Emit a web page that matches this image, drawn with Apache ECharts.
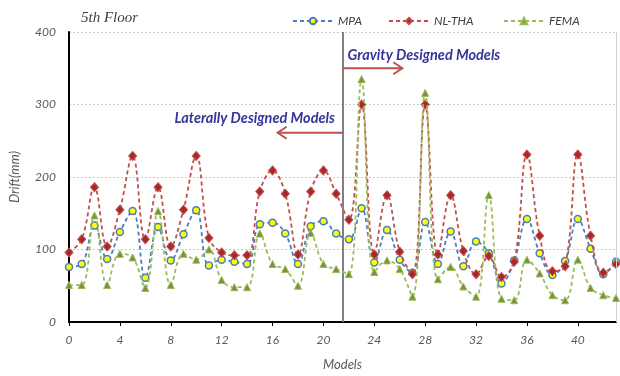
<!DOCTYPE html>
<html>
<head>
<meta charset="utf-8">
<script src="https://cdn.jsdelivr.net/npm/echarts@6/dist/echarts.min.js"></script>
<style>
  html, body { margin: 0; padding: 0; background: #ffffff; }
  #chart { width: 620px; height: 376px; }
</style>
</head>
<body>
<div id="chart"></div>
<script>
// Model numbers along the horizontal axis
const models = [0, 1, 2, 3, 4, 5, 6, 7, 8, 9, 10, 11, 12, 13, 14, 15, 16, 17, 18, 19, 20, 21,
                22, 23, 24, 25, 26, 27, 28, 29, 30, 31, 32, 33, 34, 35, 36, 37, 38, 39, 40, 41, 42, 43];

// 5th floor drift (mm) per model and method
const mpa   = [76, 80, 133, 87, 124, 153, 61, 131, 85, 121, 154, 78, 86, 83, 80, 135, 137, 122, 80, 132, 139, 122,
               114, 157, 82, 127, 86, 68, 138, 80, 125, 77, 111, 95, 53, 85, 142, 95, 65, 84, 142, 101, 66, 83];
const nlTha = [96, 114, 186, 104, 155, 229, 114, 186, 104, 155, 229, 116, 96, 92, 92, 180, 209, 177, 93, 180, 209, 177,
               141, 300, 93, 175, 97, 66, 300, 93, 175, 98, 66, 91, 62, 83, 231, 119, 70, 77, 231, 119, 68, 80];
const fema  = [51, 51, 147, 51, 94, 89, 47, 153, 51, 94, 86, 100, 58, 48, 48, 122, 80, 73, 50, 123, 80, 73,
               66, 335, 69, 85, 73, 35, 316, 59, 76, 49, 35, 175, 32, 30, 86, 67, 37, 30, 86, 47, 37, 33];

// Boundary between the two model groups
const groupSplit = 21.5;

const labelFont = 'Lato, "Open Sans", sans-serif';
const pairs = vals => vals.map((v, i) => [models[i], v]);

const chart = echarts.init(document.getElementById('chart'), null, { renderer: 'canvas' });

const dashed = [4, 3];

chart.setOption({
  animation: false,
  backgroundColor: '#ffffff',
  title: {
    text: '5th Floor',
    left: 76, top: 6,
    textStyle: { fontFamily: '"Liberation Serif", serif', fontStyle: 'italic', fontWeight: 'normal', fontSize: 15, color: '#404040' }
  },
  legend: [
    { data: ['MPA'],    left: 287, top: 10 },
    { data: ['NL-THA'], left: 383, top: 10 },
    { data: ['FEMA'],   left: 498, top: 10 }
  ].map(l => Object.assign(l, {
    itemWidth: 40, itemHeight: 8, itemGap: 4,
    textStyle: { fontFamily: labelFont, fontStyle: 'italic', fontSize: 12, color: '#404040' }
  })),
  grid: { left: 65, right: 4, top: 32, bottom: 53, containLabel: false },
  xAxis: {
    type: 'value', min: 0, max: 43, interval: 4,
    name: 'Models', nameLocation: 'middle', nameGap: 36,
    nameTextStyle: { fontFamily: labelFont, fontStyle: 'italic', fontSize: 13, color: '#595959' },
    axisLine: { lineStyle: { color: '#000000', width: 2 } },
    axisTick: { show: true, length: 4, lineStyle: { color: '#000000', width: 1 } },
    axisLabel: { fontFamily: labelFont, fontStyle: 'italic', fontSize: 12, color: '#595959', margin: 12, showMaxLabel: false },
    splitLine: { show: false }
  },
  yAxis: {
    type: 'value', min: 0, max: 400, interval: 100,
    name: 'Drift(mm)', nameLocation: 'middle', nameGap: 48, nameRotate: 90,
    nameTextStyle: { fontFamily: labelFont, fontStyle: 'italic', fontSize: 13, color: '#595959' },
    axisLine: { show: true, lineStyle: { color: '#000000', width: 2 } },
    axisTick: { show: false },
    axisLabel: { fontFamily: labelFont, fontStyle: 'italic', fontSize: 12, color: '#595959', margin: 13 },
    splitLine: { show: true, lineStyle: { color: '#c8c8c8', width: 1, type: [2, 2] } }
  },
  series: [
    {
      name: 'MPA', type: 'line', data: pairs(mpa), smooth: 0.4,
      symbol: 'circle', symbolSize: 7,
      lineStyle: { color: '#4a7ebb', width: 1.8, type: dashed },
      itemStyle: { color: '#ffff00', borderColor: '#4a7ebb', borderWidth: 1.5 },
      z: 3,
      markLine: {
        silent: true, symbol: 'none', label: { show: false },
        data: [
          { xAxis: groupSplit, lineStyle: { color: '#808080', width: 2, type: 'solid' } },
          { xAxis: 43, lineStyle: { color: '#d0d0d0', width: 1, type: 'solid' } }
        ]
      }
    },
    {
      name: 'NL-THA', type: 'line', data: pairs(nlTha), smooth: 0.4,
      symbol: 'diamond', symbolSize: [8, 9],
      lineStyle: { color: '#c0504d', width: 1.8, type: dashed },
      itemStyle: { color: '#a8282a', borderColor: '#c0504d', borderWidth: 1 },
      z: 4
    },
    {
      name: 'FEMA', type: 'line', data: pairs(fema), smooth: 0.4,
      symbol: 'triangle', symbolSize: 7,
      lineStyle: { color: '#9bbb59', width: 1.8, type: dashed },
      itemStyle: { color: '#77933c', borderColor: '#9bbb59', borderWidth: 1 },
      z: 5
    }
  ]
});

// Group annotations: text and arrows anchored in data space
const notes = [
  { text: 'Gravity Designed Models',   at: [21.9, 368], align: 'left',  arrowFrom: [groupSplit, 350], arrowTo: [26.2, 350] },
  { text: 'Laterally Designed Models', at: [20.9, 281], align: 'right', arrowFrom: [groupSplit, 261], arrowTo: [16.4, 261] }
];

const toPx = p => chart.convertToPixel({ gridIndex: 0 }, p);
const graphics = [];
notes.forEach(n => {
  const t = toPx(n.at);
  graphics.push({
    type: 'text', x: t[0], y: t[1], z: 10,
    style: {
      text: n.text, fill: '#34349a', align: n.align, verticalAlign: 'middle',
      font: 'italic bold 14.5px ' + labelFont
    }
  });
  const a = toPx(n.arrowFrom), b = toPx(n.arrowTo);
  const dir = Math.sign(b[0] - a[0]);
  graphics.push({
    type: 'line', z: 10,
    shape: { x1: a[0], y1: a[1], x2: b[0], y2: b[1] },
    style: { stroke: '#c0504d', lineWidth: 2 }
  });
  graphics.push({
    type: 'polyline', z: 10,
    shape: { points: [[b[0] - dir * 9, b[1] - 6], [b[0], b[1]], [b[0] - dir * 9, b[1] + 6]] },
    style: { stroke: '#c0504d', lineWidth: 2, fill: null }
  });
});
chart.setOption({ graphic: graphics });
</script>
</body>
</html>
